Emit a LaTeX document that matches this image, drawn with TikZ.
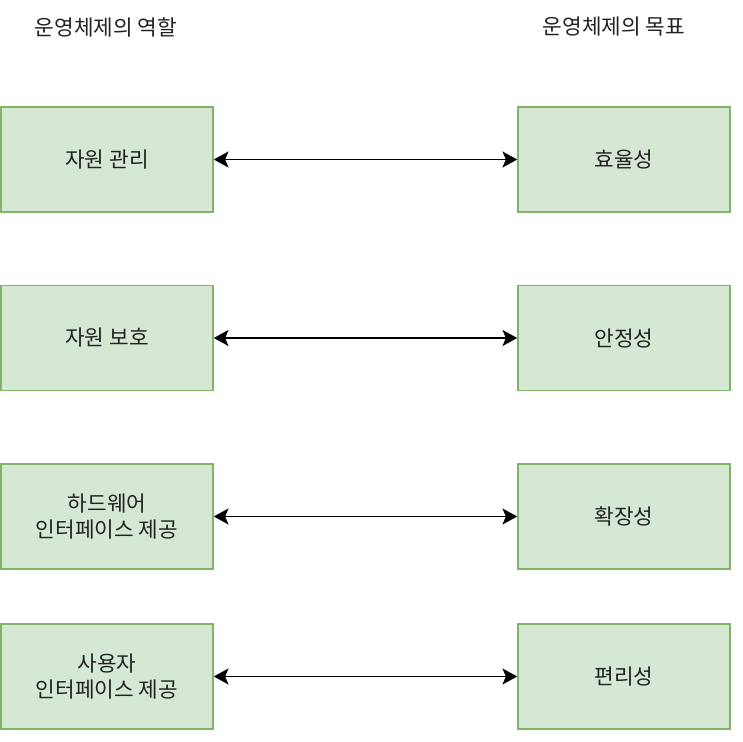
\documentclass[tikz,border=0pt]{standalone}
\usepackage{fontspec}
\setmainfont{Noto Sans CJK KR}
\usetikzlibrary{arrows.meta}
\definecolor{boxfill}{HTML}{D5E8D4}
\definecolor{boxline}{HTML}{82B366}
\definecolor{txt}{HTML}{222222}
\begin{document}
\begin{tikzpicture}[x=0.75pt,y=-0.75pt,
  box/.style={draw=boxline,fill=boxfill,line width=1.2pt,minimum width=212*0.75pt,minimum height=105*0.75pt,inner sep=0pt,align=center,font=\fontsize{16}{19}\selectfont,text=txt},
  title/.style={font=\fontsize{16}{19}\selectfont,text=txt,inner sep=0pt},
  link/.style={line width=1.2pt,{Stealth[length=11pt,width=12pt,inset=2.5pt]}-{Stealth[length=11pt,width=12pt,inset=2.5pt]}}]
\useasboundingbox (0,0) rectangle (743,742);
\node[title] (t1) at (106,27) {운영체제의 역할};
\node[title] (t2) at (614,27) {운영체제의 목표};
\node[box] (l1) at (107,159.5) {자원 관리};
\node[box] (l2) at (107,338) {자원 보호};
\node[box] (l3) at (107,516.5) {하드웨어\\인터페이스 제공};
\node[box] (l4) at (107,676.5) {사용자\\인터페이스 제공};
\node[box] (r1) at (624,159.5) {효율성};
\node[box] (r2) at (624,338) {안정성};
\node[box] (r3) at (624,516.5) {확장성};
\node[box] (r4) at (624,676.5) {편리성};
\draw[link] (l1) -- (r1);
\draw[link] (l2) -- (r2);
\draw[link] (l3) -- (r3);
\draw[link] (l4) -- (r4);
\end{tikzpicture}
\end{document}
